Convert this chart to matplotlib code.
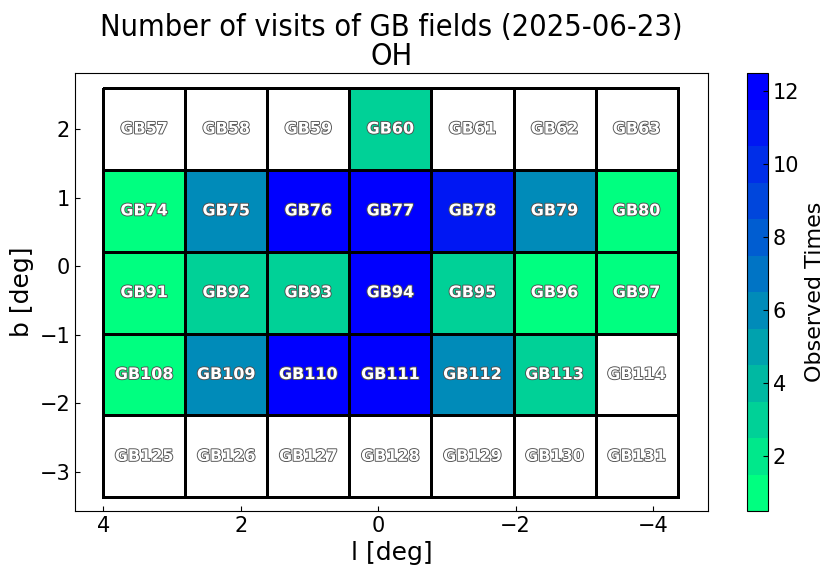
"""Number of visits per GB field, drawn as a coloured grid."""
import numpy as np
import matplotlib
matplotlib.use("Agg")
import matplotlib.pyplot as plt
import matplotlib.patheffects as pe

# field centres in galactic coordinates (deg)
l_centers = [3.403, 2.209, 1.015, -0.179, -1.373, -2.567, -3.761]
b_centers = [2.003, 0.809, -0.385, -1.579, -2.773]
half_size = 0.597

field_ids = [
    [57, 58, 59, 60, 61, 62, 63],
    [74, 75, 76, 77, 78, 79, 80],
    [91, 92, 93, 94, 95, 96, 97],
    [108, 109, 110, 111, 112, 113, 114],
    [125, 126, 127, 128, 129, 130, 131],
]
visits = [
    [0, 0, 0, 3, 0, 0, 0],
    [1, 6, 12, 12, 11, 6, 1],
    [1, 3, 3, 12, 3, 1, 1],
    [1, 6, 12, 12, 6, 3, 0],
    [0, 0, 0, 0, 0, 0, 0],
]
cbar_ticks = [2, 4, 6, 8, 10, 12]

l_edges = np.append(np.array(l_centers) + half_size, l_centers[-1] - half_size)
b_edges = np.append(np.array(b_centers) + half_size, b_centers[-1] - half_size)

fig = plt.figure(figsize=(8.35, 5.75), dpi=100)
ax = fig.add_axes([0.0898, 0.1113, 0.7582, 0.7617])
cax = fig.add_axes([0.8946, 0.1113, 0.0252, 0.7617])

cmap = plt.get_cmap("winter_r", 12).copy()
cmap.set_under("white")
mesh = ax.pcolormesh(l_edges, b_edges, np.array(visits), cmap=cmap,
                     vmin=0.5, vmax=12.5, edgecolors="k", linewidth=2)

outline = [pe.withStroke(linewidth=1.3, foreground="#505050")]
for i, b in enumerate(b_centers):
    for j, l in enumerate(l_centers):
        ax.text(l, b, f"GB{field_ids[i][j]}", ha="center", va="center",
                fontsize=11.5, fontweight="bold", color="white",
                path_effects=outline)

ax.set_xlim(4.41, -4.8)
ax.set_ylim(-3.57, 2.82)
ax.set_xticks([4, 2, 0, -2, -4])
ax.set_yticks([2, 1, 0, -1, -2, -3])
ax.tick_params(direction="in", labelsize=15)
ax.set_xlabel("l [deg]", fontsize=18)
ax.set_ylabel("b [deg]", fontsize=18)
ax.set_title("Number of visits of GB fields (2025-06-23)\nOH", fontsize=22,
             fontstretch="condensed", linespacing=1.0)

cbar = fig.colorbar(mesh, cax=cax, ticks=cbar_ticks)
cbar.ax.tick_params(direction="in", labelsize=15)
cbar.set_label("Observed Times", fontsize=16)

fig.savefig("out.png", dpi=100)
